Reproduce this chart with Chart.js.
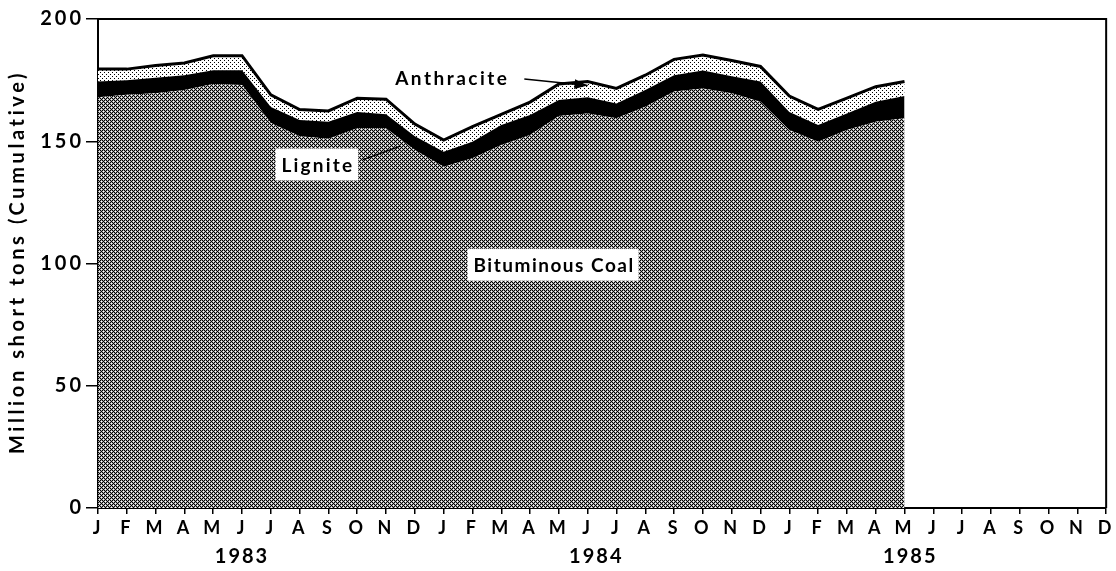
<!DOCTYPE html>
<html>
<head>
<meta charset="utf-8">
<script src="https://cdn.jsdelivr.net/npm/chart.js@4"></script>
<style>
html, body { margin: 0; padding: 0; background: #fff; }
</style>
</head>
<body>
<canvas id="myChart" width="1116" height="571"></canvas>
<script>
// month labels, J 1983 .. D 1985
var months = ["J","F","M","A","M","J","J","A","S","O","N","D",
              "J","F","M","A","M","J","J","A","S","O","N","D",
              "J","F","M","A","M","J","J","A","S","O","N","D"];
// values (million short tons), Jan 1983 .. May 1985
var bituminous = [168, 169, 169.6, 171, 173.4, 173, 157.5, 152, 151, 155.3, 155.3, 146.4,
                  139.6, 143, 148.5, 152.6, 160.3, 161.4, 159.4, 164.1, 170.3, 171.6, 169.6, 166.2,
                  154.6, 149.8, 154.6, 158, 159.4];
var lignite = [6.4, 6, 6.4, 6, 5.6, 6, 6.5, 6.7, 7, 6.7, 5.7, 5.6,
               6.1, 6.8, 8.1, 8.1, 6.6, 6.6, 6, 6.9, 6.7, 7.3, 7, 8.2,
               7.4, 6.8, 6.8, 8.2, 9.1];
var anthracite = [5.1, 4.5, 5, 5, 6, 6, 5, 4.3, 4.4, 5.6, 6.2, 5,
                  4.8, 6.2, 4.4, 5.3, 6.5, 6.4, 6.2, 6, 6.5, 6.4, 6.4, 6.2,
                  6.5, 6.4, 6.2, 6.1, 5.9];
var years = ["1983", "1984", "1985"];
var yearAt = [5, 17.3, 28.2];
var yTicks = [0, 50, 100, 150, 200];

var FONT = "Lato, 'DejaVu Sans', sans-serif";

function makePattern(bg, size, dots) {
  var c = document.createElement("canvas");
  c.width = size;
  c.height = size;
  var g = c.getContext("2d");
  g.fillStyle = bg;
  g.fillRect(0, 0, size, size);
  dots.forEach(function (d) {
    g.fillStyle = d[2];
    g.fillRect(d[0], d[1], 1, 1);
  });
  return document.getElementById("myChart").getContext("2d").createPattern(c, "repeat");
}

var W = "#fff", G = "#a8a8a8", B = "#000";
var crossHatch = makePattern(B, 4, [
  [1, 1, W], [0, 1, G], [2, 1, G], [1, 0, G], [1, 2, G],
  [3, 3, W], [2, 3, G], [0, 3, G], [3, 2, G], [3, 0, G]
]);
var dotted = makePattern(W, 4, [[0, 0, B], [2, 2, B]]);

var spacing = {
  id: "spacing",
  beforeDraw: function (chart) {
    chart.ctx.letterSpacing = "3px";
  }
};

var frame = {
  id: "frame",
  afterDraw: function (chart) {
    var ctx = chart.ctx;
    var a = chart.chartArea;
    var xs = chart.scales.x;
    var ys = chart.scales.y;
    ctx.save();
    ctx.strokeStyle = "#000";
    ctx.lineWidth = 2;
    ctx.beginPath();
    ctx.moveTo(a.left, a.top);
    ctx.lineTo(a.right, a.top);
    ctx.lineTo(a.right, a.bottom);
    ctx.stroke();

    // year labels under the month ticks
    ctx.fillStyle = "#000";
    ctx.font = "bold 20px " + FONT;
    ctx.textAlign = "center";
    ctx.textBaseline = "middle";
    ctx.letterSpacing = "2px";
    years.forEach(function (y, i) {
      ctx.fillText(y, xs.getPixelForValue(yearAt[i]), 557);
    });

    // y axis title
    ctx.save();
    ctx.translate(18, 262);
    ctx.rotate(-Math.PI / 2);
    ctx.font = "bold 20px " + FONT;
    ctx.letterSpacing = "3.6px";
    ctx.fillText("Million short tons (Cumulative)", 0, 0);
    ctx.restore();

    // in-chart labels
    ctx.font = "bold 19px " + FONT;
    function boxLabel(text, xi, yv) {
      var x = xs.getPixelForValue(xi);
      var y = ys.getPixelForValue(yv);
      var w = ctx.measureText(text).width + 10;
      ctx.fillStyle = "#fff";
      ctx.fillRect(x - w / 2, y - 16, w, 32);
      ctx.fillStyle = "#000";
      ctx.fillText(text, x + 1, y + 1);
    }
    ctx.letterSpacing = "2.2px";
    boxLabel("Lignite", 7.6, 140.5);
    ctx.letterSpacing = "1.5px";
    boxLabel("Bituminous Coal", 15.8, 99.5);
    ctx.letterSpacing = "2.5px";
    ctx.fillStyle = "#000";
    ctx.fillText("Anthracite", xs.getPixelForValue(12.3), ys.getPixelForValue(175.5));

    ctx.lineWidth = 1.5;
    ctx.beginPath();
    ctx.moveTo(xs.getPixelForValue(9.2), ys.getPixelForValue(142.5));
    ctx.lineTo(xs.getPixelForValue(10.5), ys.getPixelForValue(148));
    ctx.stroke();

    var x1 = xs.getPixelForValue(14.8), y1 = ys.getPixelForValue(175.5);
    var x2 = xs.getPixelForValue(17.0), y2 = ys.getPixelForValue(172.8);
    ctx.beginPath();
    ctx.moveTo(x1, y1);
    ctx.lineTo(x2, y2);
    ctx.stroke();
    var ang = Math.atan2(y2 - y1, x2 - x1);
    ctx.beginPath();
    ctx.moveTo(x2, y2);
    ctx.lineTo(x2 - 14 * Math.cos(ang - 0.35), y2 - 14 * Math.sin(ang - 0.35));
    ctx.lineTo(x2 - 14 * Math.cos(ang + 0.35), y2 - 14 * Math.sin(ang + 0.35));
    ctx.closePath();
    ctx.fill();
    ctx.restore();
  }
};

var ctx = document.getElementById("myChart");
var myChart = new Chart(ctx, {
  type: "line",
  data: {
    labels: months,
    datasets: [
      {
        label: "Bituminous Coal",
        data: bituminous,
        backgroundColor: crossHatch,
        borderWidth: 0,
        fill: "origin",
      },
      {
        label: "Lignite",
        data: lignite,
        backgroundColor: "#000",
        borderColor: "#000",
        borderWidth: 0,
        fill: "-1",
      },
      {
        label: "Anthracite",
        data: anthracite,
        backgroundColor: dotted,
        borderColor: "#000",
        borderWidth: 3,
        fill: "-1",
      },
    ],
  },
  options: {
    responsive: false,
    animation: false,
    layout: { padding: { top: 19, right: 8, left: 0, bottom: 0 } },
    elements: { point: { radius: 0 }, line: { tension: 0 } },
    plugins: { legend: { display: false }, tooltip: { enabled: false } },
    scales: {
      x: {
        offset: false,
        grid: { drawOnChartArea: false, tickLength: 6, color: "#000", lineWidth: 1.5 },
        border: { color: "#000", width: 2 },
        ticks: { color: "#000", font: { family: FONT, size: 18, weight: "bold" }, padding: 3, maxRotation: 0, autoSkip: false },
        afterFit: function (s) { s.height = 63; },
      },
      y: {
        stacked: true,
        min: 0,
        max: 200,
        afterBuildTicks: function (s) { s.ticks = yTicks.map(function (v) { return { value: v }; }); },
        grid: { drawOnChartArea: false, tickLength: 12, color: "#000", lineWidth: 1.5 },
        border: { color: "#000", width: 2 },
        ticks: { color: "#000", font: { family: FONT, size: 20, weight: "bold" }, padding: 2 },
        afterFit: function (s) { s.width = 98; },
      },
    },
  },
  plugins: [spacing, frame],
});
</script>
</body>
</html>
